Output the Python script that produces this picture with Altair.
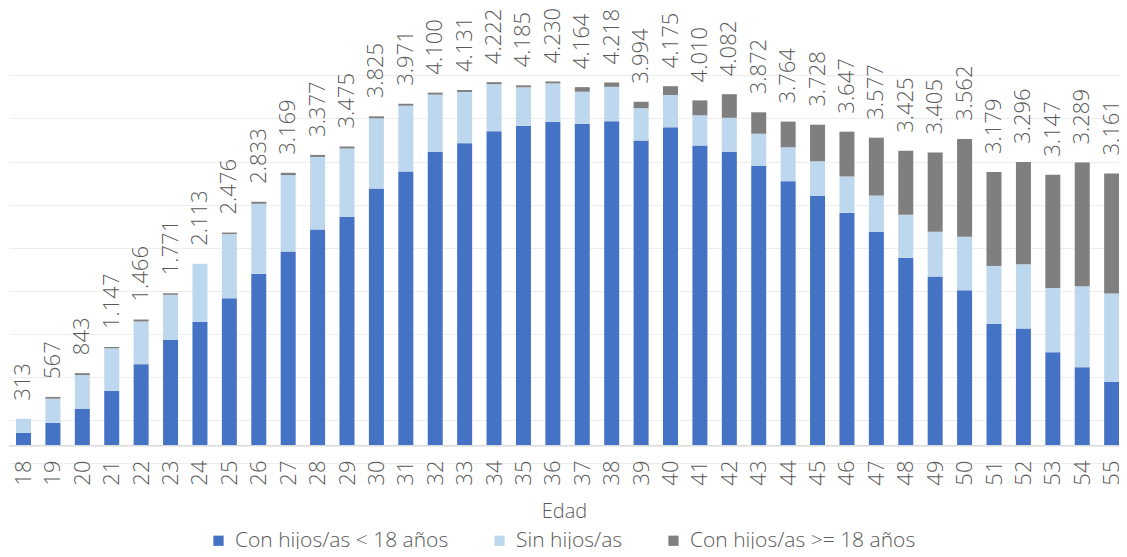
import altair as alt
import pandas as pd

ages = list(range(18, 56))
con_menores = [151, 265, 431, 637, 948, 1228, 1438, 1713, 1996, 2257, 2511, 2657, 2986,
               3186, 3414, 3514, 3652, 3714, 3760, 3740, 3768, 3544, 3697, 3486, 3414,
               3250, 3072, 2903, 2704, 2482, 2181, 1964, 1805, 1415, 1362, 1086, 911, 742]
sin_hijos = [162, 282, 390, 495, 495, 525, 675, 744, 814, 885, 843, 795, 816,
             762, 663, 594, 547, 448, 447, 371, 400, 376, 376, 351, 394,
             373, 394, 400, 423, 423, 500, 521, 622, 671, 747, 746, 942, 1026]
con_mayores = [0, 20, 22, 15, 23, 18, 0, 19, 23, 27, 23, 23, 23,
               23, 23, 23, 23, 23, 23, 53, 50, 74, 102, 173, 274,
               249, 298, 425, 520, 672, 744, 920, 1135, 1093, 1187, 1315, 1436, 1393]
totales = [313, 567, 843, 1147, 1466, 1771, 2113, 2476, 2833, 3169, 3377, 3475, 3825,
           3971, 4100, 4131, 4222, 4185, 4230, 4164, 4218, 3994, 4175, 4010, 4082,
           3872, 3764, 3728, 3647, 3577, 3425, 3405, 3562, 3179, 3296, 3147, 3289, 3161]

series = ["Con hijos/as < 18 años", "Sin hijos/as", "Con hijos/as >= 18 años"]
colors = ["#4472C4", "#BDD7EE", "#7F7F7F"]
grid_values = [-200, 300, 800, 1300, 1800, 2300, 2800, 3300, 3800, 4300]

rows = []
for i, a in enumerate(ages):
    for k, vals in enumerate([con_menores, sin_hijos, con_mayores]):
        rows.append({"edad": a, "serie": series[k], "valor": vals[i], "orden": k})
df = pd.DataFrame(rows)

df_lab = pd.DataFrame({
    "edad": ages,
    "total": [c + s + m for c, s, m in zip(con_menores, sin_hijos, con_mayores)],
    "texto": [f"{t:,}".replace(",", ".") for t in totales],
})

FONT = "Open Sans"
TXT = "#595959"

yscale = alt.Scale(domain=[-200, 5083], nice=False, zero=False)
xscale = alt.Scale(domain=[17.507, 55.25], nice=False, zero=False, padding=0)

xaxis = alt.Axis(values=ages, tickCount=len(ages), format="d", labelAngle=270,
                 labelFont=FONT, labelFontSize=22, labelColor=TXT, labelFontWeight=300,
                 labelOverlap=False, labelFlush=False,
                 ticks=False, domain=False, grid=False,
                 labelPadding=-3, title="Edad", titleFont=FONT, titleFontSize=20,
                 titleFontWeight=300, titleColor=TXT, titlePadding=16)
yaxis = alt.Axis(values=grid_values, labels=False, ticks=False, domain=False,
                 title=None, gridColor="#EDEDED", gridWidth=1)

bars = alt.Chart(df).mark_bar(width=15, clip=True).encode(
    x=alt.X("edad:Q", scale=xscale, axis=xaxis),
    y=alt.Y("valor:Q", stack="zero", scale=yscale, axis=yaxis),
    color=alt.Color("serie:N", scale=alt.Scale(domain=series, range=colors),
                    legend=alt.Legend(title=None, orient="none", direction="horizontal",
                                      legendX=199, legendY=522, symbolType="square",
                                      symbolSize=105, symbolStrokeWidth=0,
                                      labelFont=FONT, labelFontSize=21, labelFontWeight=300,
                                      labelColor=TXT, columnPadding=40, labelOffset=6,
                                      labelLimit=500)),
    order=alt.Order("orden:Q"),
)

base_rule = alt.Chart(pd.DataFrame({"v": [0]})).mark_rule(color="#D9D9D9", strokeWidth=1.5).encode(
    y=alt.Y("v:Q", scale=yscale, axis=yaxis)
)

labels = alt.Chart(df_lab).mark_text(angle=270, align="left", baseline="middle", dx=18,
                                     font=FONT, fontSize=22, fontWeight=300, color=TXT).encode(
    x=alt.X("edad:Q", scale=xscale, axis=xaxis),
    y=alt.Y("total:Q", scale=yscale, axis=yaxis),
    text="texto:N",
)

chart = alt.layer(bars, base_rule, labels).properties(
    width=1110, height=455,
    autosize=alt.AutoSizeParams(type="none"),
    padding={"left": 1, "top": 0, "right": 0, "bottom": 86},
).configure_view(stroke=None)

chart.save("out.html", embed_options={"renderer": "svg", "actions": False})
